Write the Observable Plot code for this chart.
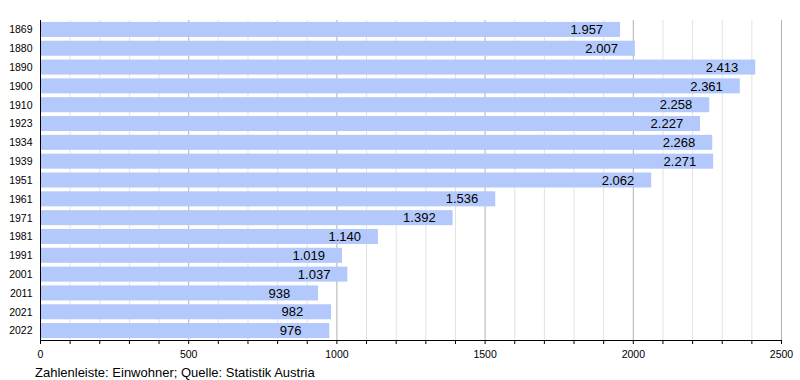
<!DOCTYPE html>
<html>
<head>
<meta charset="utf-8">
<script src="https://cdn.jsdelivr.net/npm/d3@7"></script>
<script src="https://cdn.jsdelivr.net/npm/@observablehq/plot@0.6"></script>
<style>
  body { margin: 0; background: #fff; font-family: "Liberation Sans", Arial, sans-serif; }
  #caption { font-size: 13px; color: #000; padding-left: 35px; margin-top: 5px; }
</style>
</head>
<body>
<div id="chart"></div>
<div id="caption">Zahlenleiste: Einwohner; Quelle: Statistik Austria</div>
<script>
const years = ["1869","1880","1890","1900","1910","1923","1934","1939","1951","1961","1971","1981","1991","2001","2011","2021","2022"];
const population = [1957, 2007, 2413, 2361, 2258, 2227, 2268, 2271, 2062, 1536, 1392, 1140, 1019, 1037, 938, 982, 976];
const xTicks = d3.range(0, 2501, 100);
const majorTicks = [0, 500, 1000, 1500, 2000, 2500];

const data = years.map((y, i) => ({year: y, value: population[i]}));
const minorTicks = xTicks.filter(t => !majorTicks.includes(t));
const de = d3.formatLocale({decimal: ",", thousands: ".", grouping: [3], currency: ["", " €"]});
const fmt = de.format(",d");

const H = 360, MT = 20, MB = 20;
const chart = Plot.plot({
  width: 800,
  height: H,
  marginLeft: 40,
  marginRight: 19,
  marginTop: MT,
  marginBottom: MB,
  style: {fontFamily: "Liberation Sans, Arial, sans-serif", background: "#fff"},
  x: {domain: [0, 2500]},
  y: {domain: years, padding: 0, round: false},
  marks: [
    Plot.ruleX(minorTicks, {stroke: "#e2e2e2", strokeWidth: 1}),
    Plot.ruleX(majorTicks, {stroke: "#b0b0b0", strokeWidth: 1}),
    Plot.barX(data, {x: "value", y: "year", fill: "#b3c8fb", insetTop: 1.9, insetBottom: 1.9}),
    Plot.text(data, {x: "value", y: "year", text: d => fmt(d.value), textAnchor: "start", dx: -50, fontSize: 13, fill: "#000"}),
    Plot.axisY({tickSize: 0, tickPadding: 8, fontSize: 10.5, label: null, color: "#000"}),
    Plot.axisX({ticks: xTicks, tickFormat: d => majorTicks.includes(d) ? String(d) : "", tickSize: 4, tickPadding: 6, fontSize: 10.5, label: null, color: "#000"}),
    Plot.ruleX([0], {stroke: "#000"})
  ]
});
// bottom axis baseline spanning the x scale range
const xs = chart.scale("x");
d3.select(chart).append("line")
  .attr("x1", xs.range[0]).attr("x2", xs.range[1])
  .attr("y1", H - MB + 0.5).attr("y2", H - MB + 0.5)
  .attr("stroke", "#000");
document.getElementById("chart").appendChild(chart);
</script>
</body>
</html>
